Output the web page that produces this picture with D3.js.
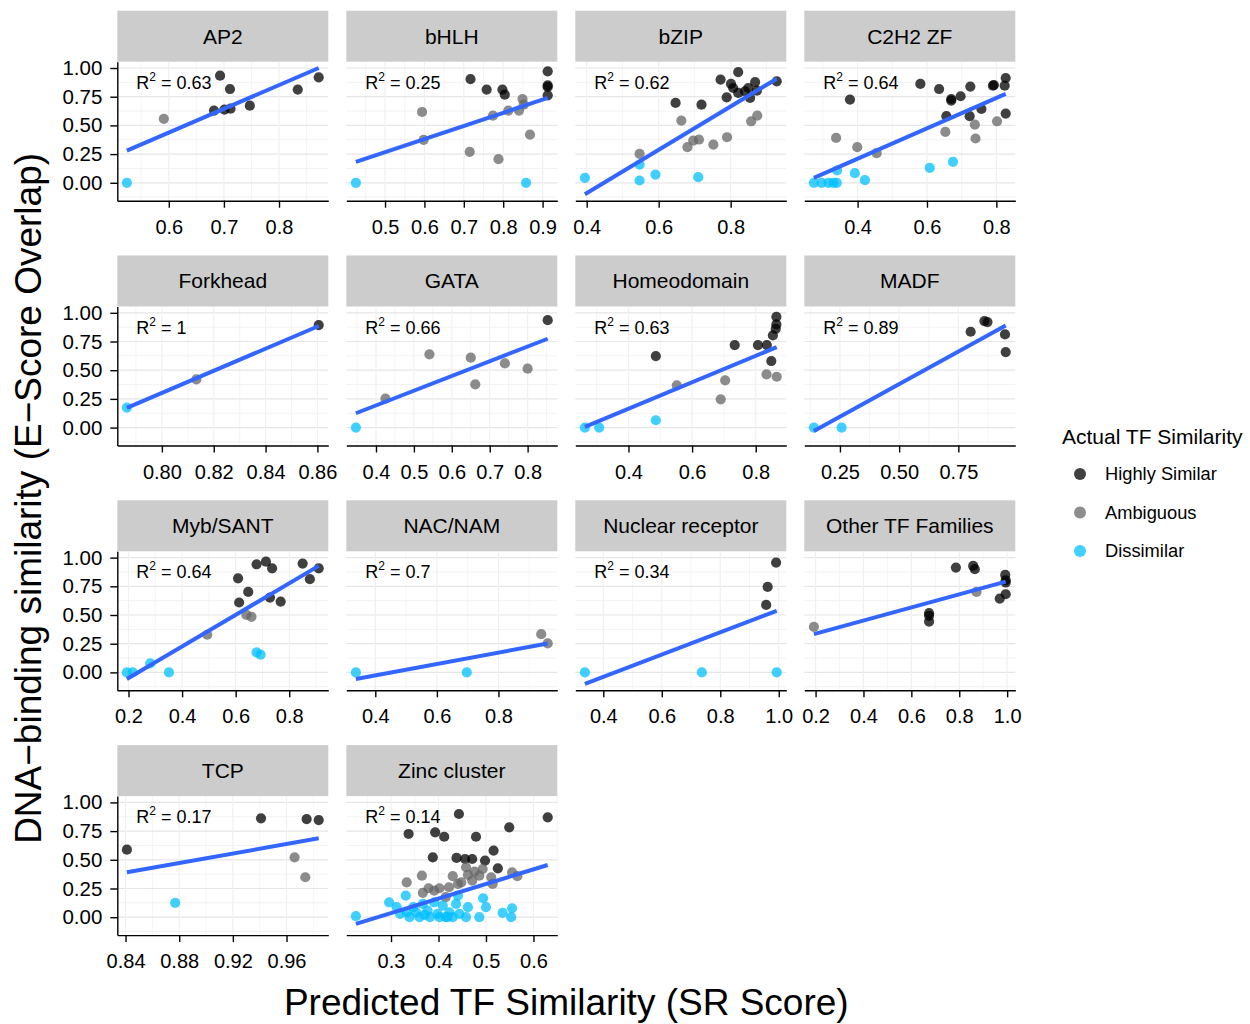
<!DOCTYPE html>
<html>
<head>
<meta charset="utf-8">
<script src="https://cdn.jsdelivr.net/npm/d3@7"></script>
<style>
  body { margin: 0; background: #fff; }
  text { font-family: "Liberation Sans", Arial, Helvetica, sans-serif; fill: #000; }
</style>
</head>
<body>
<svg id="chart" width="1250" height="1024"></svg>
<script>
// TF families, one facet each
const families = ["AP2", "bHLH", "bZIP", "C2H2 ZF", "Forkhead", "GATA", "Homeodomain", "MADF",
                  "Myb/SANT", "NAC/NAM", "Nuclear receptor", "Other TF Families", "TCP", "Zinc cluster"];
const rSquared = ["0.63", "0.25", "0.62", "0.64", "1", "0.66", "0.63", "0.89",
                  "0.64", "0.7", "0.34", null, "0.17", "0.14"];
// fitted lm line: value at the smallest and at the largest SR score of each family
const fitStart = [0.281, 0.183, -0.100, 0.043, 0.172, 0.125, 0.006, -0.029, -0.058, -0.058, -0.101, 0.333, 0.391, -0.058];
const fitEnd   = [1.000, 0.739, 0.907, 0.774, 0.885, 0.774, 0.701, 0.890, 0.928, 0.252, 0.536, 0.791, 0.687, 0.455];
const xTickLabels = [
  ["0.6", "0.7", "0.8"], ["0.5", "0.6", "0.7", "0.8", "0.9"], ["0.4", "0.6", "0.8"], ["0.4", "0.6", "0.8"],
  ["0.80", "0.82", "0.84", "0.86"], ["0.4", "0.5", "0.6", "0.7", "0.8"], ["0.4", "0.6", "0.8"], ["0.25", "0.50", "0.75"],
  ["0.2", "0.4", "0.6", "0.8"], ["0.4", "0.6", "0.8"], ["0.4", "0.6", "0.8", "1.0"], ["0.2", "0.4", "0.6", "0.8", "1.0"],
  ["0.84", "0.88", "0.92", "0.96"], ["0.3", "0.4", "0.5", "0.6"]
];
const yTickLabels = ["0.00", "0.25", "0.50", "0.75", "1.00"];
const classes = ["Highly Similar", "Ambiguous", "Dissimilar"];
const classCodes = {H: "Highly Similar", A: "Ambiguous", D: "Dissimilar"};

// points: [SR score, E-score overlap, class]
const ap2 = [[0.524,0.0,"D"],[0.591,0.557,"A"],[0.693,0.933,"H"],[0.711,0.817,"H"],[0.682,0.629,"H"],
  [0.701,0.638,"H"],[0.712,0.646,"H"],[0.747,0.672,"H"],[0.834,0.812,"H"],[0.872,0.919,"H"]];
const bhlh = [[0.426,0.0,"D"],[0.858,0.0,"D"],[0.594,0.617,"A"],[0.598,0.374,"A"],[0.715,0.270,"A"],
  [0.788,0.206,"A"],[0.774,0.586,"A"],[0.813,0.629,"A"],[0.840,0.629,"A"],[0.849,0.730,"A"],
  [0.852,0.681,"A"],[0.868,0.420,"A"],[0.717,0.904,"H"],[0.758,0.812,"H"],[0.798,0.812,"H"],
  [0.804,0.768,"H"],[0.913,0.971,"H"],[0.913,0.849,"H"],[0.913,0.835,"H"],[0.913,0.762,"H"]];
const bzip = [[0.395,0.043,"D"],[0.547,0.159,"D"],[0.547,0.020,"D"],[0.591,0.072,"D"],[0.710,0.049,"D"],
  [0.547,0.252,"A"],[0.663,0.542,"A"],[0.680,0.310,"A"],[0.696,0.368,"A"],[0.712,0.377,"A"],
  [0.752,0.333,"A"],[0.790,0.397,"A"],[0.857,0.536,"A"],[0.874,0.586,"A"],[0.647,0.696,"H"],
  [0.719,0.681,"H"],[0.772,0.899,"H"],[0.821,0.965,"H"],[0.801,0.861,"H"],[0.807,0.826,"H"],
  [0.789,0.745,"H"],[0.821,0.783,"H"],[0.849,0.826,"H"],[0.868,0.878,"H"],[0.873,0.803,"H"],
  [0.854,0.739,"H"],[0.928,0.884,"H"],[0.840,0.797,"H"]];
const c2h2 = [[0.274,0.0,"D"],[0.296,0.0,"D"],[0.316,0.0,"D"],[0.330,0.0,"D"],[0.340,0.0,"D"],
  [0.341,0.107,"D"],[0.392,0.084,"D"],[0.421,0.023,"D"],[0.608,0.130,"D"],[0.675,0.183,"D"],
  [0.338,0.391,"A"],[0.399,0.310,"A"],[0.455,0.258,"A"],[0.653,0.443,"A"],[0.738,0.507,"A"],
  [0.740,0.386,"A"],[0.802,0.536,"A"],[0.378,0.725,"H"],[0.581,0.861,"H"],[0.635,0.817,"H"],
  [0.670,0.730,"H"],[0.670,0.716,"H"],[0.697,0.754,"H"],[0.725,0.838,"H"],[0.656,0.580,"H"],
  [0.723,0.580,"H"],[0.757,0.643,"H"],[0.790,0.846,"H"],[0.793,0.852,"H"],[0.827,0.913,"H"],
  [0.824,0.846,"H"],[0.827,0.603,"H"]];
const forkhead = [[0.7865,0.174,"D"],[0.8133,0.420,"A"],[0.8605,0.893,"H"]];
const gata = [[0.347,0.0,"D"],[0.425,0.252,"A"],[0.541,0.638,"A"],[0.650,0.609,"A"],[0.662,0.377,"A"],
  [0.740,0.559,"A"],[0.800,0.513,"A"],[0.853,0.936,"H"]];
const homeodomain = [[0.263,0.0,"D"],[0.308,0.0,"D"],[0.486,0.064,"D"],[0.552,0.368,"A"],[0.704,0.412,"A"],
  [0.690,0.246,"A"],[0.834,0.464,"A"],[0.866,0.443,"A"],[0.486,0.623,"H"],[0.734,0.719,"H"],
  [0.807,0.719,"H"],[0.835,0.719,"H"],[0.849,0.580,"H"],[0.854,0.803,"H"],[0.865,0.899,"H"],
  [0.865,0.965,"H"],[0.863,0.861,"H"]];
const madf = [[0.140,0.0,"D"],[0.257,0.0,"D"],[0.802,0.835,"H"],[0.860,0.928,"H"],[0.873,0.919,"H"],
  [0.947,0.812,"H"],[0.950,0.658,"H"]];
const mybSant = [[0.194,0.0,"D"],[0.216,0.0,"D"],[0.281,0.078,"D"],[0.351,0.0,"D"],[0.678,0.174,"D"],
  [0.693,0.154,"D"],[0.494,0.328,"A"],[0.640,0.501,"A"],[0.659,0.484,"A"],[0.609,0.820,"H"],
  [0.647,0.701,"H"],[0.613,0.609,"H"],[0.678,0.942,"H"],[0.713,0.965,"H"],[0.736,0.907,"H"],
  [0.728,0.652,"H"],[0.768,0.617,"H"],[0.850,0.948,"H"],[0.877,0.812,"H"],[0.910,0.907,"H"]];
const nacNam = [[0.337,0.0,"D"],[0.697,0.0,"D"],[0.939,0.333,"A"],[0.960,0.252,"A"]];
const nuclearReceptor = [[0.337,0.0,"D"],[0.737,0.0,"D"],[0.993,0.0,"D"],[0.991,0.957,"H"],
  [0.962,0.745,"H"],[0.957,0.588,"H"]];
const otherFamilies = [[0.193,0.397,"A"],[0.872,0.701,"A"],[0.674,0.516,"H"],[0.674,0.493,"H"],
  [0.674,0.443,"H"],[0.786,0.913,"H"],[0.858,0.928,"H"],[0.865,0.899,"H"],[0.969,0.643,"H"],
  [0.994,0.681,"H"],[0.992,0.849,"H"],[0.994,0.803,"H"],[0.994,0.783,"H"]];
const tcp = [[0.841,0.588,"H"],[0.877,0.125,"D"],[0.941,0.861,"H"],[0.975,0.855,"H"],[0.984,0.846,"H"],
  [0.966,0.522,"A"],[0.974,0.348,"A"]];
const zincCluster = [[0.443,0.899,"H"],[0.630,0.870,"H"],[0.337,0.725,"H"],[0.393,0.739,"H"],
  [0.412,0.701,"H"],[0.479,0.701,"H"],[0.549,0.783,"H"],[0.388,0.522,"H"],[0.438,0.516,"H"],
  [0.456,0.507,"H"],[0.471,0.507,"H"],[0.498,0.493,"H"],[0.516,0.580,"H"],[0.525,0.426,"H"],
  [0.333,0.304,"A"],[0.365,0.362,"A"],[0.367,0.212,"A"],[0.379,0.252,"A"],[0.391,0.232,"A"],
  [0.402,0.252,"A"],[0.422,0.261,"A"],[0.430,0.357,"A"],[0.441,0.290,"A"],[0.462,0.368,"A"],
  [0.471,0.319,"A"],[0.476,0.397,"A"],[0.486,0.362,"A"],[0.493,0.420,"A"],[0.511,0.348,"A"],
  [0.514,0.290,"A"],[0.555,0.391,"A"],[0.566,0.357,"A"],[0.448,0.304,"A"],[0.458,0.435,"A"],
  [0.415,0.174,"A"],
  [0.226,0.009,"D"],[0.312,0.087,"D"],[0.319,0.029,"D"],[0.331,0.188,"D"],[0.339,0.0,"D"],
  [0.347,0.087,"D"],[0.360,0.0,"D"],[0.367,0.116,"D"],[0.377,0.058,"D"],[0.382,0.0,"D"],
  [0.391,0.130,"D"],[0.398,0.029,"D"],[0.402,0.0,"D"],[0.409,0.101,"D"],[0.415,0.0,"D"],
  [0.423,0.043,"D"],[0.430,0.0,"D"],[0.437,0.116,"D"],[0.441,0.188,"D"],[0.444,0.029,"D"],
  [0.458,0.0,"D"],[0.462,0.087,"D"],[0.486,0.0,"D"],[0.494,0.165,"D"],[0.500,0.087,"D"],
  [0.535,0.038,"D"],[0.553,0.0,"D"],[0.555,0.078,"D"],[0.353,0.043,"D"],[0.371,0.020,"D"],
  [0.419,0.0,"D"],[0.333,0.043,"D"],[0.296,0.130,"D"]];
const pointsByFamily = [ap2, bhlh, bzip, c2h2, forkhead, gata, homeodomain, madf,
                        mybSant, nacNam, nuclearReceptor, otherFamilies, tcp, zincCluster];

// layout
const panelW = 211, panelH = 139;
const left0 = 117.3, top0 = 61.7, colStep = 229, rowStep = 244.8, stripH = 51;
const nCol = 4;

const svg = d3.select("#chart");
const color = d3.scaleOrdinal().domain(classes).range(["#000000", "#666666", "#00BFFF"]);

// ggplot style 5% expansion
function expand(ext) {
  const pad = (ext[1] - ext[0]) * 0.05;
  return [ext[0] - pad, ext[1] + pad];
}

const allY = [];
pointsByFamily.forEach(function(pts, i) {
  pts.forEach(function(p) { allY.push(p[1]); });
  allY.push(fitStart[i], fitEnd[i]);
});
const yScale = d3.scaleLinear().domain(expand(d3.extent(allY))).range([panelH, 0]);
const yTicks = yTickLabels.map(Number);
const yMinor = [];
for (let v = -0.125; v <= 1.13; v += 0.25) yMinor.push(v);

families.forEach(function(fam, i) {
  const col = i % nCol, row = Math.floor(i / nCol);
  const pts = pointsByFamily[i];
  const xExt = d3.extent(pts, function(d) { return d[0]; });
  const xScale = d3.scaleLinear().domain(expand(xExt)).range([0, panelW]);
  const labels = xTickLabels[i];
  const ticks = labels.map(Number);
  const step = ticks[1] - ticks[0];
  const dom = xScale.domain();
  const xMinor = ticks.map(function(t) { return t - step / 2; })
    .concat([ticks[ticks.length - 1] + step / 2])
    .filter(function(v) { return v >= dom[0] && v <= dom[1]; });

  const g = svg.append("g")
    .attr("transform", "translate(" + (left0 + col * colStep) + "," + (top0 + row * rowStep) + ")");

  // strip
  g.append("rect")
    .attr("x", 0).attr("y", -stripH)
    .attr("width", panelW).attr("height", stripH)
    .attr("fill", "#cccccc");
  g.append("text")
    .attr("x", panelW / 2).attr("y", -stripH / 2)
    .attr("dy", "0.35em")
    .attr("text-anchor", "middle")
    .style("font-size", "21px")
    .text(fam);

  // grid
  const grid = g.append("g");
  grid.selectAll("line.ymin").data(yMinor.filter(function(v) {
      return v >= yScale.domain()[0] && v <= yScale.domain()[1]; }))
    .enter().append("line")
    .attr("x1", 0).attr("x2", panelW)
    .attr("y1", function(d) { return yScale(d); }).attr("y2", function(d) { return yScale(d); })
    .attr("stroke", "#efefef").attr("stroke-width", 0.8);
  grid.selectAll("line.xmin").data(xMinor)
    .enter().append("line")
    .attr("y1", 0).attr("y2", panelH)
    .attr("x1", function(d) { return xScale(d); }).attr("x2", function(d) { return xScale(d); })
    .attr("stroke", "#f3f3f3").attr("stroke-width", 0.8);
  grid.selectAll("line.ymaj").data(yTicks)
    .enter().append("line")
    .attr("x1", 0).attr("x2", panelW)
    .attr("y1", function(d) { return yScale(d); }).attr("y2", function(d) { return yScale(d); })
    .attr("stroke", "#e6e6e6").attr("stroke-width", 1.2);
  grid.selectAll("line.xmaj").data(ticks)
    .enter().append("line")
    .attr("y1", 0).attr("y2", panelH)
    .attr("x1", function(d) { return xScale(d); }).attr("x2", function(d) { return xScale(d); })
    .attr("stroke", "#f0f0f0").attr("stroke-width", 1.2);

  // points
  g.append("g").selectAll("circle")
    .data(pts)
    .enter().append("circle")
    .attr("cx", function(d) { return xScale(d[0]); })
    .attr("cy", function(d) { return yScale(d[1]); })
    .attr("r", 5.1)
    .attr("fill", function(d) { return color(classCodes[d[2]]); })
    .attr("fill-opacity", 0.75);

  // lm fit
  g.append("line")
    .attr("x1", xScale(xExt[0])).attr("y1", yScale(fitStart[i]))
    .attr("x2", xScale(xExt[1])).attr("y2", yScale(fitEnd[i]))
    .attr("stroke", "#3366FF").attr("stroke-width", 4);

  // R squared label
  if (rSquared[i] !== null) {
    const t = g.append("text")
      .attr("x", 19).attr("y", 27)
      .style("font-size", "18px");
    t.append("tspan").text("R");
    t.append("tspan").attr("dy", -8).style("font-size", "12px").text("2");
    t.append("tspan").attr("dy", 8).text(" = " + rSquared[i]);
  }

  // x axis
  const xAxis = g.append("g")
    .attr("transform", "translate(0," + panelH + ")")
    .call(d3.axisBottom(xScale).tickValues(ticks)
      .tickFormat(function(d, k) { return labels[k]; })
      .tickSize(7).tickSizeOuter(0).tickPadding(12));
  xAxis.select(".domain").attr("stroke-width", 1.4);
  xAxis.selectAll(".tick line").attr("stroke-width", 1.4);
  xAxis.selectAll("text").style("font-size", "20px").attr("fill", "#000");

  // y axis on the first column only
  if (col === 0) {
    const yAxis = g.append("g")
      .call(d3.axisLeft(yScale).tickValues(yTicks)
        .tickFormat(function(d, k) { return yTickLabels[k]; })
        .tickSize(7).tickSizeOuter(0).tickPadding(8));
    yAxis.select(".domain").attr("stroke-width", 1.4);
    yAxis.selectAll(".tick line").attr("stroke-width", 1.4);
    yAxis.selectAll("text").style("font-size", "20.5px").attr("fill", "#000");
  }
});

// axis titles
const panelsTop = top0, panelsBottom = top0 + 3 * rowStep + panelH;
svg.append("text")
  .attr("transform", "translate(41," + ((panelsTop + panelsBottom) / 2) + ") rotate(-90)")
  .attr("text-anchor", "middle")
  .style("font-size", "37px")
  .text("DNA\u2212binding similarity (E\u2212Score Overlap)");
svg.append("text")
  .attr("x", left0 + (3 * colStep + panelW) / 2).attr("y", 1015)
  .attr("text-anchor", "middle")
  .style("font-size", "37px")
  .text("Predicted TF Similarity (SR Score)");

// legend
const legend = svg.append("g").attr("transform", "translate(1062,0)");
legend.append("text")
  .attr("x", 0).attr("y", 444)
  .style("font-size", "21px")
  .text("Actual TF Similarity");
const items = legend.selectAll("g.item")
  .data(classes)
  .enter().append("g")
  .attr("transform", function(d, i) { return "translate(0," + (474 + i * 38.5) + ")"; });
items.append("circle")
  .attr("cx", 18).attr("cy", 0).attr("r", 6)
  .attr("fill", function(d) { return color(d); })
  .attr("fill-opacity", 0.75);
items.append("text")
  .attr("x", 43).attr("dy", "0.35em")
  .style("font-size", "18.3px")
  .text(function(d) { return d; });
</script>
</body>
</html>
